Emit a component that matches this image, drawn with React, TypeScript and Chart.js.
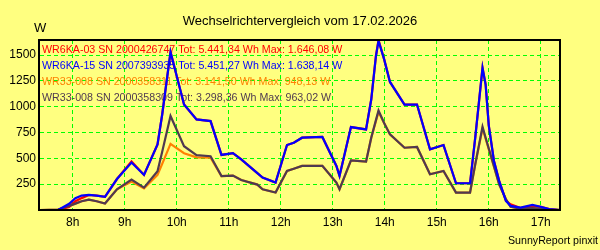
import React, { useEffect, useRef } from "react";
import { Chart, registerables } from "chart.js";

Chart.register(...registerables);

// Time of day in hours
const times = [
  7.37, 7.72, 7.93, 8.05, 8.17, 8.31, 8.46, 8.62, 8.85, 9.13, 9.37, 9.63, 9.72, 9.88,
  10.14, 10.38, 10.65, 10.86, 11.08, 11.24, 11.55, 11.65, 11.9, 12.12, 12.25, 12.41,
  12.8, 13.07, 13.13, 13.35, 13.64, 13.74, 13.83, 13.88, 13.99, 14.1, 14.38, 14.62,
  14.87, 15.13, 15.37, 15.64, 15.74, 15.88, 15.94, 16.0, 16.1, 16.2, 16.33, 16.42,
  16.61, 16.84, 17.0, 17.16, 17.37,
];

const wr6ka03 = [
  0, 0, 30, 85, 115, 145, 140, 127, 300, 470, 340, 635, 925, 1530,
  1021, 877, 861, 533, 550, 490, 357, 314, 265, 629, 652, 700,
  707, 427, 330, 803, 780, 1070, 1489, 1646.08, 1456, 1240, 1021, 1021,
  587, 629, 259, 259, 700, 1376, 1214, 820, 475, 282, 89, 55,
  18, 38, 31, 8, 0,
];

const wr6ka15 = [
  0, 0, 60, 114, 140, 147, 140, 127, 300, 460, 340, 635, 925, 1530,
  1021, 877, 861, 533, 550, 490, 357, 314, 265, 629, 652, 700,
  707, 427, 330, 803, 780, 1070, 1489, 1638.14, 1456, 1240, 1021, 1021,
  587, 629, 259, 259, 700, 1376, 1214, 820, 475, 282, 89, 40,
  24, 50, 31, 8, 0,
];

const wr33_311 = [
  0, 5, 40, 62, 85, 100, 85, 63, 200, 275, 210, 340, 446, 640,
  550, 510, 507, 328, 333, 290, 246, 201, 169, 378, 400, 427,
  427, 265, 201, 481, 468, 700, 860, 948.13, 840, 732, 603, 610,
  346, 378, 169, 169, 442, 790, 690, 590, 420, 249, 104, 31,
  14, 19, 12, 5, 0,
];

const wr33_309 = [
  0, 5, 40, 62, 85, 100, 85, 63, 200, 295, 217, 376, 565, 910,
  618, 531, 521, 328, 333, 290, 246, 201, 169, 378, 400, 427,
  427, 265, 201, 481, 468, 700, 870, 963.02, 840, 732, 603, 610,
  346, 378, 169, 169, 442, 806, 700, 596, 423, 249, 104, 31,
  14, 19, 12, 5, 0,
];

const seriesLabels = [
  "WR6KA-03 SN 2000426747 Tot: 5.441,34 Wh Max: 1.646,08 W",
  "WR6KA-15 SN 2007393935 Tot: 5.451,27 Wh Max: 1.638,14 W",
  "WR33-008 SN 2000358311 Tot: 3.141,50 Wh Max: 948,13 W",
  "WR33-008 SN 2000358309 Tot: 3.298,36 Wh Max: 963,02 W",
];
const seriesColors = ["#ff0000", "#0000ff", "#ff8000", "#4f3a50"];
const seriesOrder = [2, 0, 3, 1];

const xTicks = [8, 9, 10, 11, 12, 13, 14, 15, 16, 17];
const yTicks = [250, 500, 750, 1000, 1250, 1500];
const xMin = 7.37;
const xMax = 17.37;
const yMax = 1646.08;

const chartTitle = "Wechselrichtervergleich vom 17.02.2026";
const yUnit = "W";
const footer = "SunnyReport pinxit";

const FONT = "'Liberation Sans', Arial, sans-serif";
const BG = "#ffff80";
const GRID = "#00ff00";

const decor = {
  id: "decor",
  beforeDraw(chart: any) {
    const ctx = chart.ctx;
    ctx.save();
    ctx.fillStyle = BG;
    ctx.fillRect(0, 0, chart.width, chart.height);
    ctx.fillStyle = "#000";
    ctx.textBaseline = "alphabetic";
    ctx.font = `13px ${FONT}`;
    ctx.textAlign = "center";
    ctx.fillText(chartTitle, 300, 24.5);
    ctx.textAlign = "left";
    ctx.fillText(yUnit, 34, 32);
    ctx.font = `10.67px ${FONT}`;
    ctx.textAlign = "right";
    ctx.fillText(footer, 598, 243.5);
    ctx.restore();
  },
  beforeDatasetsDraw(chart: any) {
    const ctx = chart.ctx;
    const a = chart.chartArea;
    ctx.save();
    ctx.font = `10.67px ${FONT}`;
    ctx.textAlign = "left";
    ctx.textBaseline = "alphabetic";
    seriesLabels.forEach((lbl, i) => {
      ctx.fillStyle = seriesColors[i];
      ctx.fillText(lbl, a.left + 2, a.top + 13 + i * 16);
    });
    ctx.restore();
  },
  afterDatasetsDraw(chart: any) {
    const ctx = chart.ctx;
    const a = chart.chartArea;
    ctx.save();
    ctx.strokeStyle = "#000";
    ctx.lineWidth = 2;
    ctx.strokeRect(a.left - 1, a.top, a.right - a.left + 1, a.bottom - a.top);
    ctx.restore();
  },
};

export default function App() {
  const ref = useRef<HTMLCanvasElement | null>(null);

  useEffect(() => {
    if (!ref.current) return;
    const series = [wr6ka03, wr6ka15, wr33_311, wr33_309];
    const chart = new Chart(ref.current, {
      type: "line",
      data: {
        datasets: series.map((vals, i) => ({
          label: seriesLabels[i],
          data: times.map((t, j) => ({ x: t, y: vals[j] })),
          borderColor: seriesColors[i],
          backgroundColor: seriesColors[i],
          borderWidth: 2.2,
          pointRadius: 0,
          tension: 0,
          fill: false,
          order: seriesOrder[i],
        })),
      },
      options: {
        animation: false,
        responsive: false,
        devicePixelRatio: 1,
        layout: { padding: { top: 40, right: 40, left: 0, bottom: 0 } },
        plugins: {
          legend: { display: false },
          title: { display: false },
          tooltip: { enabled: false },
        },
        scales: {
          x: {
            type: "linear",
            min: xMin,
            max: xMax,
            afterBuildTicks: (s: any) => {
              s.ticks = xTicks.map((v) => ({ value: v }));
            },
            afterFit: (s: any) => {
              s.height = 40;
            },
            ticks: {
              autoSkip: false,
              maxRotation: 0,
              padding: 5,
              color: "#000",
              font: { family: FONT, size: 12 },
              callback: (v: any) => `${v}h`,
            },
            grid: { color: GRID, lineWidth: 1, drawTicks: false },
            border: { display: false, dash: [4, 3] },
          },
          y: {
            type: "linear",
            min: 0,
            max: yMax,
            afterBuildTicks: (s: any) => {
              s.ticks = yTicks.map((v) => ({ value: v }));
            },
            afterFit: (s: any) => {
              s.width = 40;
            },
            ticks: {
              autoSkip: false,
              padding: 4,
              color: "#000",
              font: { family: FONT, size: 12 },
              callback: (v: any) => `${v}`,
            },
            grid: { color: GRID, lineWidth: 1, drawTicks: false },
            border: { display: false, dash: [4, 3] },
          },
        },
      },
      plugins: [decor],
    });
    return () => chart.destroy();
  }, []);

  return (
    <div style={{ position: "absolute", left: 0, top: 0, width: 600, height: 250 }}>
      <canvas ref={ref} width={600} height={250} style={{ display: "block" }} />
    </div>
  );
}
